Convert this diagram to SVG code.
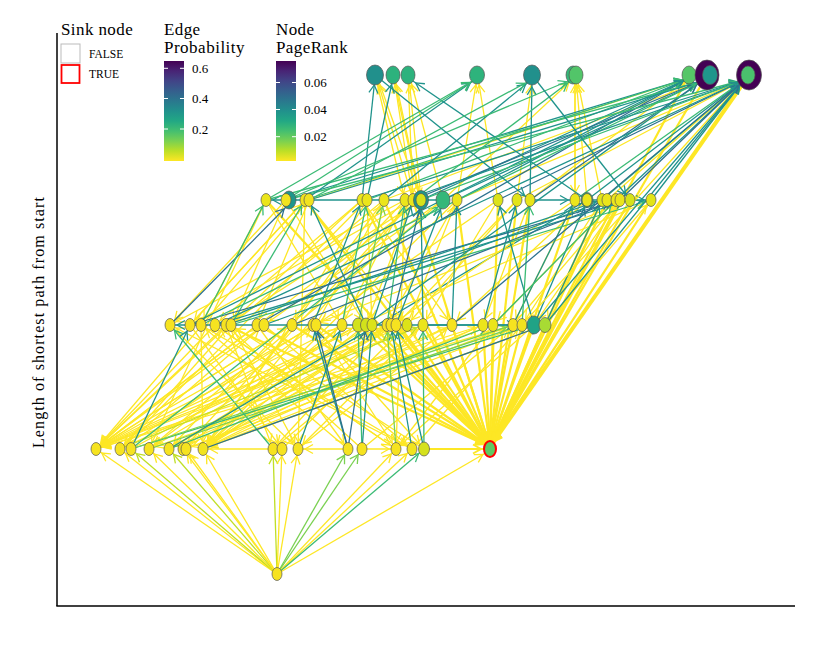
<svg xmlns="http://www.w3.org/2000/svg" width="830" height="664" viewBox="0 0 830 664">
<style>
text{font-family:"Liberation Serif","Times New Roman",serif;fill:#000}
.hd{font-size:17px}
.tk{font-size:13px}
.lb{font-size:11.5px}
#edges line{stroke-width:1.3;fill:none}
#edges .y{stroke:#FDE725;marker-end:url(#my)}
#edges .yg{stroke:#C0DF25;marker-end:url(#myg)}
#edges .lg{stroke:#7AD151;marker-end:url(#mlg)}
#edges .g{stroke:#3BBB75;marker-end:url(#mg)}
#edges .t{stroke:#20938C;marker-end:url(#mt)}
#edges .b{stroke:#2D718E;marker-end:url(#mb)}
#edges .w2{stroke-width:2.2;marker-end:url(#my2)}
#edges .w4{stroke-width:4;marker-end:url(#my2)}
.n{stroke:#555;stroke-width:0.7}
</style>
<defs>
<linearGradient id="vir" x1="0" y1="0" x2="0" y2="1">
<stop offset="0" stop-color="#440154"/><stop offset="0.1" stop-color="#482475"/><stop offset="0.2" stop-color="#414487"/><stop offset="0.3" stop-color="#355F8D"/><stop offset="0.4" stop-color="#2A788E"/><stop offset="0.5" stop-color="#21918C"/><stop offset="0.6" stop-color="#22A884"/><stop offset="0.7" stop-color="#44BF70"/><stop offset="0.8" stop-color="#7AD151"/><stop offset="0.9" stop-color="#BDDF26"/><stop offset="1" stop-color="#FDE725"/>
</linearGradient>
<marker id="my" markerUnits="userSpaceOnUse" markerWidth="30" markerHeight="30" refX="15" refY="4.5" orient="auto" overflow="visible"><path d="M0,0 L8,4.5 L0,9" fill="none" stroke="#FDE725" stroke-width="1.3"/></marker>
<marker id="myg" markerUnits="userSpaceOnUse" markerWidth="30" markerHeight="30" refX="15" refY="4.5" orient="auto" overflow="visible"><path d="M0,0 L8,4.5 L0,9" fill="none" stroke="#C0DF25" stroke-width="1.3"/></marker>
<marker id="mlg" markerUnits="userSpaceOnUse" markerWidth="30" markerHeight="30" refX="15" refY="4.5" orient="auto" overflow="visible"><path d="M0,0 L8,4.5 L0,9" fill="none" stroke="#7AD151" stroke-width="1.3"/></marker>
<marker id="mg" markerUnits="userSpaceOnUse" markerWidth="30" markerHeight="30" refX="15" refY="4.5" orient="auto" overflow="visible"><path d="M0,0 L8,4.5 L0,9" fill="none" stroke="#3BBB75" stroke-width="1.3"/></marker>
<marker id="mt" markerUnits="userSpaceOnUse" markerWidth="30" markerHeight="30" refX="15" refY="4.5" orient="auto" overflow="visible"><path d="M0,0 L8,4.5 L0,9" fill="none" stroke="#20938C" stroke-width="1.3"/></marker>
<marker id="mb" markerUnits="userSpaceOnUse" markerWidth="30" markerHeight="30" refX="15" refY="4.5" orient="auto" overflow="visible"><path d="M0,0 L8,4.5 L0,9" fill="none" stroke="#2D718E" stroke-width="1.3"/></marker>
<marker id="my2" markerUnits="userSpaceOnUse" markerWidth="30" markerHeight="30" refX="15" refY="4.5" orient="auto" overflow="visible"><path d="M0,0 L8,4.5 L0,9" fill="none" stroke="#FDE725" stroke-width="2"/></marker>
</defs>
<rect width="830" height="664" fill="#fff"/>

<g id="axes" stroke="#000" stroke-width="1.5">
<line x1="57" y1="33" x2="57" y2="606"/>
<line x1="56.3" y1="606" x2="795" y2="606"/>
</g>
<text x="44" y="322" font-size="16" letter-spacing="1.1" text-anchor="middle" transform="rotate(-90 44 322)">Length of shortest path from start</text>

<g id="legend">
<text class="hd" x="61" y="35" letter-spacing="0.4">Sink node</text>
<rect x="61" y="44" width="19" height="19" fill="#fff" stroke="#bbb" stroke-width="1"/>
<rect x="61.5" y="65" width="18" height="18" fill="#fff" stroke="#f00" stroke-width="1.8"/>
<text class="lb" x="89" y="58">FALSE</text>
<text class="lb" x="89" y="78">TRUE</text>
<text class="hd" x="164" y="35" letter-spacing="0.4">Edge</text>
<text class="hd" x="164" y="53" letter-spacing="0.5">Probability</text>
<rect x="164" y="61" width="20" height="100" fill="url(#vir)"/>
<g stroke="#fff" stroke-width="1"><line x1="164" y1="68.3" x2="168" y2="68.3"/><line x1="180" y1="68.3" x2="184" y2="68.3"/><line x1="164" y1="98.5" x2="168" y2="98.5"/><line x1="180" y1="98.5" x2="184" y2="98.5"/><line x1="164" y1="129" x2="168" y2="129"/><line x1="180" y1="129" x2="184" y2="129"/></g>
<text class="tk" x="192" y="72.8">0.6</text>
<text class="tk" x="192" y="103">0.4</text>
<text class="tk" x="192" y="133.5">0.2</text>
<text class="hd" x="276" y="35" letter-spacing="0.4">Node</text>
<text class="hd" x="276" y="53" letter-spacing="0.4">PageRank</text>
<rect x="276" y="61" width="20" height="100" fill="url(#vir)"/>
<g stroke="#fff" stroke-width="1"><line x1="276" y1="82.5" x2="280" y2="82.5"/><line x1="292" y1="82.5" x2="296" y2="82.5"/><line x1="276" y1="109.5" x2="280" y2="109.5"/><line x1="292" y1="109.5" x2="296" y2="109.5"/><line x1="276" y1="136.7" x2="280" y2="136.7"/><line x1="292" y1="136.7" x2="296" y2="136.7"/></g>
<text class="tk" x="304" y="87">0.06</text>
<text class="tk" x="304" y="114">0.04</text>
<text class="tk" x="304" y="141">0.02</text>
</g>

<g id="edges">
<!-- start to level 1 -->
<line class="y" x1="277" y1="574" x2="96" y2="449"/>
<line class="y" x1="277" y1="574" x2="120" y2="449"/>
<line class="yg" x1="277" y1="574" x2="131" y2="449"/>
<line class="y" x1="277" y1="574" x2="149" y2="449"/>
<line class="yg" x1="277" y1="574" x2="169" y2="449"/>
<line class="y" x1="277" y1="574" x2="183" y2="449"/>
<line class="y" x1="277" y1="574" x2="186" y2="449"/>
<line class="y" x1="277" y1="574" x2="203" y2="449"/>
<line class="yg" x1="277" y1="574" x2="273" y2="449"/>
<line class="y" x1="277" y1="574" x2="282" y2="449"/>
<line class="y" x1="277" y1="574" x2="298" y2="449"/>
<line class="lg" x1="277" y1="574" x2="348" y2="449"/>
<line class="lg" x1="277" y1="574" x2="362" y2="449"/>
<line class="y" x1="277" y1="574" x2="396" y2="449"/>
<line class="y" x1="277" y1="574" x2="412" y2="449"/>
<line class="g" x1="277" y1="574" x2="424" y2="449"/>
<line class="y" x1="277" y1="574" x2="489" y2="451"/>
<!-- level 1 horizontal -->
<line class="y" x1="273" y1="449" x2="203" y2="449"/>
<line class="y" x1="348" y1="449" x2="298" y2="449"/>
<line class="y" x1="362" y1="449" x2="396" y2="449"/>
<line class="y w2" x1="424" y1="449" x2="488" y2="449"/>
<!-- level 2/3 down to level 1 -->
<line class="y" x1="215" y1="325" x2="96" y2="449"/>
<line class="y" x1="257" y1="325" x2="96" y2="449"/>
<line class="y" x1="264" y1="325" x2="96" y2="449"/>
<line class="y" x1="292" y1="325" x2="96" y2="449"/>
<line class="y" x1="316" y1="325" x2="96" y2="449"/>
<line class="y" x1="342" y1="325" x2="96" y2="449"/>
<line class="y" x1="366" y1="325" x2="96" y2="449"/>
<line class="y" x1="387" y1="325" x2="96" y2="449"/>
<line class="y" x1="407" y1="325" x2="96" y2="449"/>
<line class="y" x1="423" y1="325" x2="96" y2="449"/>
<line class="y" x1="483" y1="325" x2="96" y2="449"/>
<line class="y" x1="513" y1="325" x2="96" y2="449"/>
<line class="y" x1="362" y1="200" x2="96" y2="449"/>
<line class="y" x1="309" y1="200" x2="96" y2="449"/>
<line class="y" x1="421" y1="200" x2="96" y2="449"/>
<line class="y" x1="231" y1="325" x2="120" y2="449"/>
<line class="y" x1="313" y1="325" x2="120" y2="449"/>
<line class="y" x1="391" y1="325" x2="120" y2="449"/>
<line class="y" x1="367" y1="200" x2="120" y2="449"/>
<line class="y" x1="358" y1="325" x2="149" y2="449"/>
<line class="y" x1="493" y1="325" x2="149" y2="449"/>
<line class="y" x1="443" y1="200" x2="149" y2="449"/>
<line class="y" x1="372" y1="325" x2="169" y2="449"/>
<line class="y" x1="452" y1="325" x2="169" y2="449"/>
<line class="y" x1="405" y1="200" x2="169" y2="449"/>
<line class="y" x1="396" y1="325" x2="183" y2="449"/>
<line class="y" x1="413" y1="200" x2="183" y2="449"/>
<line class="y" x1="513" y1="325" x2="186" y2="449"/>
<line class="y" x1="201" y1="325" x2="203" y2="449"/>
<line class="y" x1="292" y1="325" x2="203" y2="449"/>
<line class="y" x1="342" y1="325" x2="203" y2="449"/>
<line class="y" x1="366" y1="325" x2="203" y2="449"/>
<line class="y" x1="391" y1="325" x2="203" y2="449"/>
<line class="y" x1="407" y1="325" x2="203" y2="449"/>
<line class="y" x1="483" y1="325" x2="203" y2="449"/>
<line class="y" x1="522" y1="325" x2="203" y2="449"/>
<line class="y" x1="545" y1="325" x2="203" y2="449"/>
<line class="y" x1="413" y1="200" x2="203" y2="449"/>
<line class="y" x1="457" y1="200" x2="203" y2="449"/>
<line class="y" x1="226" y1="325" x2="273" y2="449"/>
<line class="y" x1="387" y1="325" x2="273" y2="449"/>
<line class="y" x1="190" y1="325" x2="282" y2="449"/>
<line class="y" x1="170" y1="325" x2="298" y2="449"/>
<line class="y" x1="231" y1="325" x2="298" y2="449"/>
<line class="y" x1="423" y1="325" x2="298" y2="449"/>
<line class="y" x1="257" y1="325" x2="348" y2="449"/>
<line class="y" x1="215" y1="325" x2="396" y2="449"/>
<line class="y" x1="316" y1="325" x2="396" y2="449"/>
<line class="y" x1="534" y1="325" x2="396" y2="449"/>
<line class="y" x1="201" y1="325" x2="412" y2="449"/>
<line class="y" x1="264" y1="325" x2="412" y2="449"/>
<line class="y" x1="313" y1="325" x2="424" y2="449"/>
<line class="y" x1="266" y1="200" x2="149" y2="449"/>
<line class="y" x1="305" y1="200" x2="298" y2="449"/>
<line class="y" x1="384" y1="200" x2="203" y2="449"/>
<line class="y" x1="405" y1="200" x2="396" y2="449"/>
<!-- into sink -->
<line class="y w2" x1="226" y1="325" x2="490" y2="447"/>
<line class="y w2" x1="257" y1="325" x2="490" y2="447"/>
<line class="y w2" x1="292" y1="325" x2="490" y2="447"/>
<line class="y w2" x1="316" y1="325" x2="490" y2="447"/>
<line class="y w2" x1="358" y1="325" x2="490" y2="447"/>
<line class="y w2" x1="366" y1="325" x2="490" y2="447"/>
<line class="y w2" x1="372" y1="325" x2="490" y2="447"/>
<line class="y w2" x1="391" y1="325" x2="490" y2="447"/>
<line class="y w2" x1="396" y1="325" x2="490" y2="447"/>
<line class="y w2" x1="407" y1="325" x2="490" y2="447"/>
<line class="y w2" x1="423" y1="325" x2="490" y2="447"/>
<line class="y w2" x1="452" y1="325" x2="490" y2="447"/>
<line class="y w2" x1="483" y1="325" x2="490" y2="447"/>
<line class="y w2" x1="493" y1="325" x2="490" y2="447"/>
<line class="y w2" x1="513" y1="325" x2="490" y2="447"/>
<line class="y w2" x1="522" y1="325" x2="490" y2="447"/>
<line class="y w2" x1="534" y1="325" x2="490" y2="447"/>
<line class="y w2" x1="545" y1="325" x2="490" y2="447"/>
<line class="y w2" x1="266" y1="200" x2="490" y2="447"/>
<line class="y w2" x1="305" y1="200" x2="490" y2="447"/>
<line class="y w2" x1="362" y1="200" x2="490" y2="447"/>
<line class="y w2" x1="384" y1="200" x2="490" y2="447"/>
<line class="y w2" x1="413" y1="200" x2="490" y2="447"/>
<line class="y w2" x1="457" y1="200" x2="490" y2="447"/>
<line class="y w2" x1="498" y1="200" x2="490" y2="447"/>
<line class="y w2" x1="517" y1="200" x2="490" y2="447"/>
<line class="y w2" x1="530" y1="200" x2="490" y2="447"/>
<line class="y w2" x1="575" y1="200" x2="490" y2="447"/>
<line class="y w2" x1="602" y1="200" x2="490" y2="447"/>
<line class="y w2" x1="607" y1="200" x2="490" y2="447"/>
<line class="y w2" x1="616" y1="200" x2="490" y2="447"/>
<line class="y w2" x1="620" y1="200" x2="490" y2="447"/>
<line class="y w2" x1="630" y1="200" x2="490" y2="447"/>
<line class="y w2" x1="651" y1="200" x2="490" y2="447"/>
<line class="y w2" x1="689" y1="75" x2="490" y2="447"/>
<line class="y w2" x1="707" y1="75" x2="490" y2="447"/>
<line class="y w4" x1="749" y1="75" x2="490" y2="447"/>
<!-- level 1 up to level 2 -->
<line class="y" x1="120" y1="449" x2="264" y2="325"/>
<line class="y" x1="183" y1="449" x2="342" y2="325"/>
<line class="y" x1="203" y1="449" x2="387" y2="325"/>
<line class="y" x1="282" y1="449" x2="407" y2="325"/>
<line class="y" x1="298" y1="449" x2="452" y2="325"/>
<line class="y" x1="149" y1="449" x2="316" y2="325"/>
<line class="y" x1="186" y1="449" x2="483" y2="325"/>
<line class="y" x1="96" y1="449" x2="226" y2="325"/>
<line class="y" x1="273" y1="449" x2="423" y2="325"/>
<line class="y" x1="396" y1="449" x2="493" y2="325"/>
<line class="y" x1="412" y1="449" x2="522" y2="325"/>
<line class="y" x1="362" y1="449" x2="513" y2="325"/>
<line class="y" x1="396" y1="449" x2="215" y2="325"/>
<line class="y" x1="412" y1="449" x2="170" y2="325"/>
<line class="y" x1="424" y1="449" x2="231" y2="325"/>
<line class="y" x1="348" y1="449" x2="201" y2="325"/>
<line class="y" x1="362" y1="449" x2="226" y2="325"/>
<line class="y" x1="131" y1="449" x2="358" y2="325"/>
<line class="y" x1="169" y1="449" x2="391" y2="325"/>
<line class="y" x1="96" y1="449" x2="292" y2="325"/>
<line class="y" x1="203" y1="449" x2="452" y2="325"/>
<line class="t" x1="131" y1="449" x2="190" y2="325"/>
<line class="g" x1="273" y1="449" x2="170" y2="325"/>
<line class="g" x1="131" y1="449" x2="534" y2="325"/>
<line class="lg" x1="131" y1="449" x2="513" y2="325"/>
<line class="lg" x1="149" y1="449" x2="522" y2="325"/>
<line class="yg" x1="120" y1="449" x2="423" y2="325"/>
<line class="b" x1="203" y1="449" x2="545" y2="325"/>
<line class="g" x1="169" y1="449" x2="493" y2="325"/>
<line class="t" x1="348" y1="449" x2="313" y2="325"/>
<line class="b" x1="348" y1="449" x2="316" y2="325"/>
<line class="g" x1="362" y1="449" x2="358" y2="325"/>
<line class="t" x1="362" y1="449" x2="372" y2="325"/>
<line class="b" x1="348" y1="449" x2="366" y2="325"/>
<line class="t" x1="424" y1="449" x2="396" y2="325"/>
<line class="g" x1="424" y1="449" x2="423" y2="325"/>
<line class="t" x1="412" y1="449" x2="391" y2="325"/>
<line class="lg" x1="396" y1="449" x2="387" y2="325"/>
<line class="t" x1="298" y1="449" x2="342" y2="325"/>
<line class="g" x1="131" y1="449" x2="443" y2="203"/>
<line class="t" x1="169" y1="449" x2="587" y2="200"/>
<!-- level 3 down to level 2 -->
<line class="y" x1="266" y1="200" x2="201" y2="325"/>
<line class="y" x1="286" y1="200" x2="170" y2="325"/>
<line class="y" x1="286" y1="200" x2="231" y2="325"/>
<line class="y" x1="305" y1="200" x2="190" y2="325"/>
<line class="y" x1="309" y1="200" x2="257" y2="325"/>
<line class="y" x1="362" y1="200" x2="215" y2="325"/>
<line class="y" x1="367" y1="200" x2="292" y2="325"/>
<line class="y" x1="384" y1="200" x2="231" y2="325"/>
<line class="y" x1="405" y1="200" x2="342" y2="325"/>
<line class="y" x1="413" y1="200" x2="366" y2="325"/>
<line class="y" x1="421" y1="200" x2="226" y2="325"/>
<line class="y" x1="443" y1="200" x2="264" y2="325"/>
<line class="y" x1="457" y1="200" x2="387" y2="325"/>
<line class="y" x1="498" y1="200" x2="423" y2="325"/>
<line class="y" x1="517" y1="200" x2="407" y2="325"/>
<line class="y" x1="530" y1="200" x2="483" y2="325"/>
<line class="y" x1="575" y1="200" x2="513" y2="325"/>
<line class="y" x1="587" y1="200" x2="452" y2="325"/>
<line class="y" x1="602" y1="200" x2="522" y2="325"/>
<line class="y" x1="607" y1="200" x2="545" y2="325"/>
<line class="y" x1="616" y1="200" x2="493" y2="325"/>
<line class="y" x1="620" y1="200" x2="534" y2="325"/>
<line class="y" x1="630" y1="200" x2="313" y2="325"/>
<line class="y" x1="651" y1="200" x2="358" y2="325"/>
<line class="y" x1="405" y1="200" x2="170" y2="325"/>
<line class="y" x1="413" y1="200" x2="190" y2="325"/>
<line class="y" x1="367" y1="200" x2="372" y2="325"/>
<line class="y" x1="498" y1="200" x2="316" y2="325"/>
<line class="y" x1="575" y1="200" x2="391" y2="325"/>
<line class="y" x1="517" y1="200" x2="396" y2="325"/>
<line class="y" x1="266" y1="200" x2="342" y2="325"/>
<line class="y" x1="286" y1="200" x2="366" y2="325"/>
<line class="y" x1="305" y1="200" x2="407" y2="325"/>
<line class="y" x1="362" y1="200" x2="452" y2="325"/>
<!-- level 2 up to level 3 -->
<line class="y" x1="316" y1="325" x2="384" y2="200"/>
<line class="y" x1="407" y1="325" x2="457" y2="200"/>
<line class="y" x1="545" y1="325" x2="651" y2="200"/>
<line class="y" x1="513" y1="325" x2="620" y2="200"/>
<line class="y" x1="190" y1="325" x2="305" y2="200"/>
<line class="b" x1="170" y1="325" x2="289" y2="204"/>
<line class="t" x1="534" y1="325" x2="498" y2="200"/>
<line class="t" x1="534" y1="325" x2="587" y2="201"/>
<line class="t" x1="513" y1="325" x2="575" y2="200"/>
<line class="t" x1="423" y1="325" x2="421" y2="203"/>
<line class="g" x1="342" y1="325" x2="367" y2="200"/>
<line class="t" x1="372" y1="325" x2="413" y2="200"/>
<line class="g" x1="387" y1="325" x2="405" y2="200"/>
<line class="b" x1="391" y1="325" x2="421" y2="203"/>
<line class="t" x1="545" y1="325" x2="602" y2="200"/>
<line class="g" x1="522" y1="325" x2="530" y2="200"/>
<line class="t" x1="483" y1="325" x2="517" y2="200"/>
<line class="g" x1="201" y1="325" x2="266" y2="200"/>
<line class="g" x1="231" y1="325" x2="305" y2="200"/>
<line class="t" x1="313" y1="325" x2="362" y2="200"/>
<line class="lg" x1="358" y1="325" x2="384" y2="200"/>
<line class="t" x1="396" y1="325" x2="443" y2="203"/>
<line class="g" x1="493" y1="325" x2="616" y2="200"/>
<line class="t" x1="452" y1="325" x2="457" y2="200"/>
<line class="t" x1="366" y1="325" x2="309" y2="200"/>
<line class="b" x1="190" y1="325" x2="620" y2="200"/>
<line class="t" x1="215" y1="325" x2="630" y2="200"/>
<line class="g" x1="231" y1="325" x2="651" y2="200"/>
<line class="t" x1="264" y1="325" x2="607" y2="200"/>
<line class="b" x1="292" y1="325" x2="616" y2="200"/>
<line class="t" x1="226" y1="325" x2="602" y2="200"/>
<!-- horizontal -->
<line class="t" x1="534" y1="325" x2="170" y2="325"/>
<line class="t" x1="423" y1="325" x2="522" y2="325"/>
<line class="t" x1="443" y1="200" x2="266" y2="200"/>
<line class="t" x1="530" y1="200" x2="575" y2="200"/>
<line class="t" x1="587" y1="200" x2="651" y2="200"/>
<!-- to the top level -->
<line class="y" x1="309" y1="200" x2="689" y2="78"/>
<line class="y" x1="530" y1="200" x2="689" y2="78"/>
<line class="y" x1="384" y1="200" x2="702" y2="81"/>
<line class="y" x1="457" y1="200" x2="744" y2="80"/>
<line class="y" x1="517" y1="200" x2="744" y2="80"/>
<line class="y" x1="607" y1="200" x2="744" y2="80"/>
<line class="y" x1="522" y1="325" x2="744" y2="80"/>
<line class="y" x1="413" y1="200" x2="377" y2="79"/>
<line class="y" x1="421" y1="200" x2="378" y2="79"/>
<line class="y" x1="413" y1="200" x2="394" y2="78"/>
<line class="y" x1="421" y1="200" x2="395" y2="78"/>
<line class="y" x1="421" y1="200" x2="409" y2="78"/>
<line class="y" x1="443" y1="200" x2="410" y2="78"/>
<line class="y" x1="457" y1="200" x2="477" y2="78"/>
<line class="y" x1="498" y1="200" x2="478" y2="78"/>
<line class="y" x1="517" y1="200" x2="532" y2="79"/>
<line class="y" x1="443" y1="200" x2="574" y2="78"/>
<line class="y" x1="575" y1="200" x2="575" y2="78"/>
<line class="y" x1="587" y1="200" x2="576" y2="78"/>
<line class="y" x1="602" y1="200" x2="577" y2="78"/>
<line class="y" x1="375" y1="75" x2="405" y2="200"/>
<line class="y" x1="393" y1="75" x2="421" y2="203"/>
<line class="y" x1="408" y1="75" x2="413" y2="200"/>
<line class="y" x1="575" y1="75" x2="575" y2="200"/>
<line class="t" x1="286" y1="200" x2="689" y2="78"/>
<line class="g" x1="305" y1="200" x2="689" y2="78"/>
<line class="t" x1="421" y1="200" x2="689" y2="78"/>
<line class="b" x1="257" y1="325" x2="689" y2="78"/>
<line class="g" x1="367" y1="200" x2="689" y2="78"/>
<line class="t" x1="457" y1="200" x2="689" y2="78"/>
<line class="t" x1="190" y1="325" x2="689" y2="78"/>
<line class="g" x1="266" y1="200" x2="702" y2="81"/>
<line class="t" x1="309" y1="200" x2="702" y2="81"/>
<line class="b" x1="413" y1="200" x2="702" y2="81"/>
<line class="t" x1="443" y1="200" x2="702" y2="81"/>
<line class="t" x1="366" y1="325" x2="702" y2="81"/>
<line class="b" x1="530" y1="200" x2="702" y2="81"/>
<line class="g" x1="201" y1="325" x2="702" y2="81"/>
<line class="g" x1="286" y1="200" x2="744" y2="80"/>
<line class="t" x1="362" y1="200" x2="744" y2="80"/>
<line class="t" x1="405" y1="200" x2="744" y2="80"/>
<line class="g" x1="421" y1="200" x2="744" y2="80"/>
<line class="b" x1="498" y1="200" x2="744" y2="80"/>
<line class="t" x1="587" y1="200" x2="744" y2="80"/>
<line class="g" x1="602" y1="200" x2="744" y2="80"/>
<line class="t" x1="616" y1="200" x2="744" y2="80"/>
<line class="t" x1="651" y1="200" x2="744" y2="80"/>
<line class="t" x1="534" y1="325" x2="744" y2="80"/>
<line class="b" x1="452" y1="325" x2="744" y2="80"/>
<line class="g" x1="575" y1="200" x2="744" y2="80"/>
<line class="t" x1="545" y1="325" x2="744" y2="80"/>
<line class="b" x1="620" y1="200" x2="744" y2="80"/>
<line class="t" x1="215" y1="325" x2="744" y2="80"/>
<line class="t" x1="362" y1="200" x2="375" y2="78"/>
<line class="t" x1="367" y1="200" x2="393" y2="78"/>
<line class="t" x1="587" y1="200" x2="410" y2="79"/>
<line class="g" x1="266" y1="200" x2="476" y2="79"/>
<line class="t" x1="305" y1="200" x2="476" y2="79"/>
<line class="g" x1="286" y1="200" x2="476" y2="79"/>
<line class="t" x1="384" y1="200" x2="531" y2="80"/>
<line class="g" x1="309" y1="200" x2="531" y2="80"/>
<line class="t" x1="530" y1="200" x2="532" y2="80"/>
<line class="g" x1="286" y1="200" x2="573" y2="79"/>
<line class="g" x1="413" y1="200" x2="573" y2="79"/>
<line class="t" x1="375" y1="75" x2="530" y2="200"/>
<line class="t" x1="532" y1="75" x2="630" y2="200"/>
</g>

<g id="n-a0"><ellipse class="n" cx="277" cy="574" rx="5" ry="6.5" fill="#F6E320"/></g>

<g id="n-b1"><ellipse class="n" cx="96" cy="449" rx="5" ry="6.5" fill="#F6E320"/></g>
<g id="n-b2"><ellipse class="n" cx="120" cy="449" rx="5" ry="6.5" fill="#F6E320"/></g>
<g id="n-b3"><ellipse class="n" cx="131" cy="449" rx="5" ry="6.5" fill="#F6E320"/></g>
<g id="n-b4"><ellipse class="n" cx="149" cy="449" rx="5" ry="6.5" fill="#F6E320"/></g>
<g id="n-b5"><ellipse class="n" cx="169" cy="449" rx="5" ry="6.5" fill="#F6E320"/></g>
<g id="n-b6"><ellipse class="n" cx="183" cy="449" rx="5" ry="6.5" fill="#F6E320"/></g>
<g id="n-b7"><ellipse class="n" cx="186" cy="449" rx="5" ry="6.5" fill="#F6E320"/></g>
<g id="n-b8"><ellipse class="n" cx="203" cy="449" rx="5" ry="6.5" fill="#F1E31F"/></g>
<g id="n-b9"><ellipse class="n" cx="273" cy="449" rx="5" ry="6.5" fill="#F6E320"/></g>
<g id="n-b10"><ellipse class="n" cx="282" cy="449" rx="5" ry="6.5" fill="#F6E320"/></g>
<g id="n-b11"><ellipse class="n" cx="298" cy="449" rx="5" ry="6.5" fill="#F6E320"/></g>
<g id="n-b12"><ellipse class="n" cx="348" cy="449" rx="5" ry="6.5" fill="#F6E320"/></g>
<g id="n-b13"><ellipse class="n" cx="362" cy="449" rx="5" ry="6.5" fill="#F6E320"/></g>
<g id="n-b14"><ellipse class="n" cx="396" cy="449" rx="5" ry="6.5" fill="#F6E320"/></g>
<g id="n-b15"><ellipse class="n" cx="412" cy="449" rx="5" ry="6.5" fill="#F1E31F"/></g>
<g id="n-b16"><ellipse class="n" cx="424" cy="449" rx="5.5" ry="7" fill="#D5E11C"/></g>
<g id="n-sink"><ellipse cx="490" cy="449" rx="6" ry="8" fill="#5EC962" stroke="#f00" stroke-width="2"/></g>

<g id="n-c1"><ellipse class="n" cx="170" cy="325" rx="5" ry="6.5" fill="#F6E320"/></g>
<g id="n-c2"><ellipse class="n" cx="190" cy="325" rx="5" ry="6.5" fill="#F6E320"/></g>
<g id="n-c3"><ellipse class="n" cx="201" cy="325" rx="5" ry="6.5" fill="#F6E320"/></g>
<g id="n-c4"><ellipse class="n" cx="215" cy="325" rx="5" ry="6.5" fill="#F6E320"/></g>
<g id="n-c5"><ellipse class="n" cx="226" cy="325" rx="5" ry="6.5" fill="#F6E320"/></g>
<g id="n-c6"><ellipse class="n" cx="231" cy="325" rx="5" ry="6.5" fill="#F6E320"/></g>
<g id="n-c7"><ellipse class="n" cx="257" cy="325" rx="5" ry="6.5" fill="#F6E320"/></g>
<g id="n-c8"><ellipse class="n" cx="264" cy="325" rx="5" ry="6.5" fill="#F6E320"/></g>
<g id="n-c9"><ellipse class="n" cx="292" cy="325" rx="5" ry="6.5" fill="#F6E320"/></g>
<g id="n-c10"><ellipse class="n" cx="313" cy="325" rx="5" ry="6.5" fill="#F6E320"/></g>
<g id="n-c11"><ellipse class="n" cx="316" cy="325" rx="5" ry="6.5" fill="#F6E320"/></g>
<g id="n-c12"><ellipse class="n" cx="342" cy="325" rx="5" ry="6.5" fill="#F1E31F"/></g>
<g id="n-c13"><ellipse class="n" cx="358" cy="325" rx="5.5" ry="7" fill="#D2E21B"/></g>
<g id="n-c14"><ellipse class="n" cx="366" cy="325" rx="5.5" ry="7" fill="#D2E21B"/></g>
<g id="n-c15"><ellipse class="n" cx="372" cy="325" rx="5" ry="6.5" fill="#DCE319"/></g>
<g id="n-c16"><ellipse class="n" cx="387" cy="325" rx="5" ry="6.5" fill="#F6E320"/></g>
<g id="n-c17"><ellipse class="n" cx="391" cy="325" rx="5" ry="6.5" fill="#F6E320"/></g>
<g id="n-c18"><ellipse class="n" cx="396" cy="325" rx="5" ry="6.5" fill="#F6E320"/></g>
<g id="n-c19"><ellipse class="n" cx="407" cy="325" rx="5" ry="6.5" fill="#DDE318"/></g>
<g id="n-c20"><ellipse class="n" cx="423" cy="325" rx="5" ry="6.5" fill="#EBE51B"/></g>
<g id="n-c21"><ellipse class="n" cx="452" cy="325" rx="5" ry="6.5" fill="#F6E320"/></g>
<g id="n-c22"><ellipse class="n" cx="483" cy="325" rx="5" ry="6.5" fill="#EBE51B"/></g>
<g id="n-c23"><ellipse class="n" cx="493" cy="325" rx="5" ry="6.5" fill="#EBE51B"/></g>
<g id="n-c24"><ellipse class="n" cx="513" cy="325" rx="5" ry="6.5" fill="#F6E320"/></g>
<g id="n-c25"><ellipse class="n" cx="522" cy="325" rx="5" ry="6.5" fill="#F1E31F"/></g>
<g id="n-c26"><ellipse class="n" cx="534" cy="325" rx="7" ry="9" fill="#20A386"/></g>
<g id="n-c27"><ellipse class="n" cx="545" cy="325" rx="6" ry="7.5" fill="#A8DB34"/></g>

<g id="n-d1"><ellipse class="n" cx="266" cy="200" rx="5" ry="6.5" fill="#EBE51B"/></g>
<g id="n-d2b"><ellipse class="n" cx="289" cy="200" rx="7" ry="9" fill="#1F968B"/></g>
<g id="n-d2"><ellipse class="n" cx="286" cy="200" rx="5" ry="6.5" fill="#F1E31F"/></g>
<g id="n-d3"><ellipse class="n" cx="305" cy="200" rx="5" ry="6.5" fill="#F1E31F"/></g>
<g id="n-d4"><ellipse class="n" cx="309" cy="200" rx="5" ry="6.5" fill="#F1E31F"/></g>
<g id="n-d5"><ellipse class="n" cx="362" cy="200" rx="5" ry="6.5" fill="#EBE51B"/></g>
<g id="n-d6"><ellipse class="n" cx="367" cy="200" rx="5" ry="6.5" fill="#EBE51B"/></g>
<g id="n-d7"><ellipse class="n" cx="384" cy="200" rx="5" ry="6.5" fill="#EBE51B"/></g>
<g id="n-d8"><ellipse class="n" cx="405" cy="200" rx="5" ry="6.5" fill="#EBE51B"/></g>
<g id="n-d9"><ellipse class="n" cx="413" cy="200" rx="5" ry="6.5" fill="#EBE51B"/></g>
<g id="n-d10"><ellipse class="n" cx="421" cy="200" rx="7.5" ry="9.5" fill="#1F968B"/><ellipse class="n" cx="421" cy="200" rx="5" ry="6.5" fill="#D5E21A"/></g>
<g id="n-d11"><ellipse class="n" cx="443" cy="200" rx="7" ry="9" fill="#35B779"/></g>
<g id="n-d12"><ellipse class="n" cx="457" cy="200" rx="5" ry="6.5" fill="#EBE51B"/></g>
<g id="n-d13"><ellipse class="n" cx="498" cy="200" rx="5" ry="6.5" fill="#DCE319"/></g>
<g id="n-d14"><ellipse class="n" cx="517" cy="200" rx="5" ry="6.5" fill="#E2E418"/></g>
<g id="n-d15"><ellipse class="n" cx="530" cy="200" rx="5" ry="6.5" fill="#E8E419"/></g>
<g id="n-d16"><ellipse class="n" cx="575" cy="200" rx="5" ry="6.5" fill="#EBE51B"/></g>
<g id="n-d17"><ellipse class="n" cx="587" cy="200" rx="6" ry="7.5" fill="#35B779"/><ellipse class="n" cx="587" cy="200" rx="5" ry="6.5" fill="#EBE51B"/></g>
<g id="n-d18"><ellipse class="n" cx="602" cy="200" rx="5" ry="6.5" fill="#E2E418"/></g>
<g id="n-d19"><ellipse class="n" cx="607" cy="200" rx="5" ry="6.5" fill="#EBE51B"/></g>
<g id="n-d20"><ellipse class="n" cx="616" cy="200" rx="5" ry="6.5" fill="#EBE51B"/></g>
<g id="n-d21"><ellipse class="n" cx="620" cy="200" rx="5" ry="6.5" fill="#EBE51B"/></g>
<g id="n-d22"><ellipse class="n" cx="630" cy="200" rx="5" ry="6.5" fill="#D5E21A"/></g>
<g id="n-d23"><ellipse class="n" cx="651" cy="200" rx="5" ry="6.5" fill="#E2E418"/></g>

<g id="n-e1"><ellipse class="n" cx="375" cy="75" rx="8.5" ry="10" fill="#21908C"/></g>
<g id="n-e2"><ellipse class="n" cx="393" cy="75" rx="7" ry="9" fill="#2DB27D"/></g>
<g id="n-e3"><ellipse class="n" cx="408" cy="75" rx="7" ry="9" fill="#2DB27D"/></g>
<g id="n-e4"><ellipse class="n" cx="477" cy="75" rx="7.5" ry="9" fill="#2EB37C"/></g>
<g id="n-e5"><ellipse class="n" cx="532" cy="75" rx="8.5" ry="10" fill="#21908C"/></g>
<g id="n-e6"><ellipse class="n" cx="573" cy="75" rx="7" ry="9" fill="#35B779"/><ellipse class="n" cx="576" cy="75" rx="7" ry="9" fill="#52C569"/></g>
<g id="n-e7"><ellipse class="n" cx="689" cy="75" rx="7" ry="9" fill="#56C667"/></g>
<g id="n-e8"><ellipse class="n" cx="707" cy="75" rx="12" ry="15" fill="#440154"/><ellipse class="n" cx="710" cy="75" rx="7.5" ry="9.5" fill="#1F968B"/></g>
<g id="n-e9"><ellipse class="n" cx="749" cy="75" rx="12.5" ry="15" fill="#440154"/><ellipse class="n" cx="748" cy="75" rx="7" ry="9" fill="#4AC16D"/></g>
</svg>
